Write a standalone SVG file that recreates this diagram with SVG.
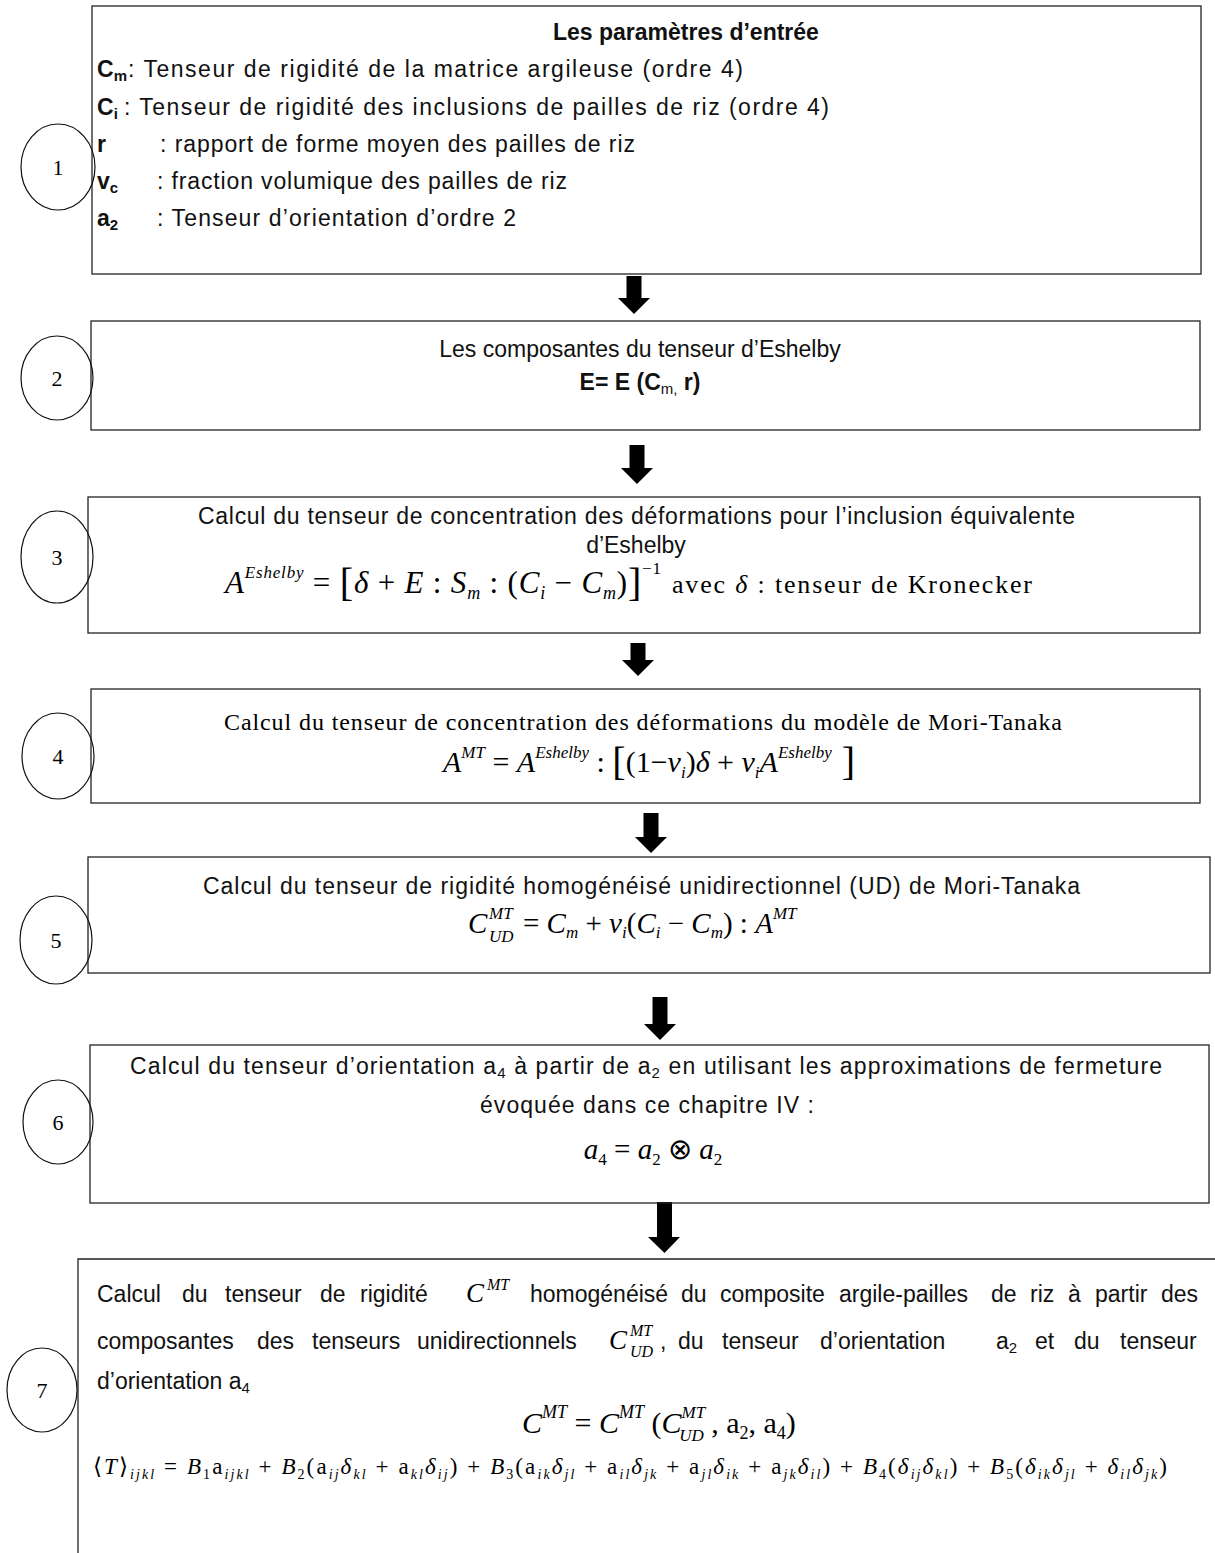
<svg xmlns="http://www.w3.org/2000/svg" width="1215" height="1553" viewBox="0 0 1215 1553">
<style>
.box{fill:none;stroke:#222;stroke-width:1.3}
.num{fill:none;stroke:#111;stroke-width:1.2}
.nt{font-family:'Liberation Serif','Times New Roman',serif;font-size:22px;text-anchor:middle;fill:#000}
.s{font-family:'Liberation Sans',Arial,sans-serif;font-size:23px;fill:#111}
.b{font-weight:bold}
.sf{font-family:'Liberation Serif','Times New Roman',serif;fill:#000}
.mi{font-family:'Liberation Serif','Times New Roman',serif;font-style:italic;fill:#000}
.arrow{fill:#000}
</style>
<rect width="1215" height="1553" fill="#fff"/>

<g id="connectors">
<polygon class="arrow" points="626.5,276 641.5,276 641.5,298 650,298 634,314 618,298 626.5,298"/>
<polygon class="arrow" points="629.5,445 644.5,445 644.5,468 653,468 637,484 621,468 629.5,468"/>
<polygon class="arrow" points="630.5,643 645.5,643 645.5,660 654,660 638,676 622,660 630.5,660"/>
<polygon class="arrow" points="643.5,813 658.5,813 658.5,837 667,837 651,853 635,837 643.5,837"/>
<polygon class="arrow" points="652.5,997 667.5,997 667.5,1024 676,1024 660,1040 644,1024 652.5,1024"/>
<polygon class="arrow" points="657,1202 672,1202 672,1237 680,1237 664.5,1253 648,1237 657,1237"/>
</g>

<g id="node-1">
<rect class="box" x="92" y="6" width="1109" height="268"/>
<ellipse class="num" cx="58" cy="167" rx="37" ry="43"/>
<text class="nt" x="58" y="175">1</text>
<text class="s b" x="553" y="40">Les paramètres d’entrée</text>
<text class="s b" x="97" y="77">C<tspan font-size="15" dy="4">m</tspan></text>
<text class="s" x="128" y="77" textLength="615">: Tenseur de rigidité de la matrice argileuse (ordre 4)</text>
<text class="s b" x="97" y="115">C<tspan font-size="15" dy="4">i</tspan></text>
<text class="s" x="124" y="115" textLength="705">:  Tenseur de rigidité des inclusions de pailles de riz (ordre 4)</text>
<text class="s b" x="97" y="152">r</text>
<text class="s" x="160" y="152" textLength="475">: rapport de forme moyen des pailles de riz</text>
<text class="s b" x="97" y="189">v<tspan font-size="15" dy="4">c</tspan></text>
<text class="s" x="157" y="189" textLength="410">: fraction volumique des pailles de riz</text>
<text class="s b" x="97" y="226">a<tspan font-size="15" dy="4">2</tspan></text>
<text class="s" x="157" y="226" textLength="359">: Tenseur d’orientation d’ordre 2</text>
</g>

<g id="node-2">
<rect class="box" x="91" y="321" width="1109" height="109"/>
<ellipse class="num" cx="57" cy="378" rx="36" ry="42"/>
<text class="nt" x="57" y="386">2</text>
<text class="s" x="640" y="357" text-anchor="middle">Les composantes du tenseur d’Eshelby</text>
<text class="s b" x="640" y="390" text-anchor="middle" font-size="22">E= E (C<tspan font-size="15" font-weight="normal" dy="4">m,</tspan><tspan dy="-4"> r)</tspan></text>
</g>

<g id="node-3">
<rect class="box" x="88" y="497" width="1112" height="136"/>
<ellipse class="num" cx="57" cy="557" rx="36" ry="46"/>
<text class="nt" x="57" y="565">3</text>
<text class="s" x="198" y="524" textLength="877">Calcul du tenseur de concentration des déformations pour l’inclusion équivalente</text>
<text class="s" x="636" y="553" text-anchor="middle">d’Eshelby</text>
<text class="sf" x="225" y="593" font-size="31" textLength="436"><tspan class="mi">A</tspan><tspan class="mi" font-size="17" dy="-15">Eshelby</tspan><tspan dy="15"> = </tspan><tspan font-size="40" dy="3">[</tspan><tspan class="mi" dy="-3">δ</tspan> + <tspan class="mi">E</tspan> : <tspan class="mi">S</tspan><tspan class="mi" font-size="18" dy="6">m</tspan><tspan dy="-6"> : (</tspan><tspan class="mi">C</tspan><tspan class="mi" font-size="18" dy="6">i</tspan><tspan dy="-6"> − </tspan><tspan class="mi">C</tspan><tspan class="mi" font-size="18" dy="6">m</tspan><tspan dy="-6">)</tspan><tspan font-size="40" dy="3">]</tspan><tspan font-size="17" dy="-22">−1</tspan></text>
<text class="sf" x="672" y="593" font-size="26" textLength="360">avec <tspan class="mi">δ</tspan> : tenseur de  Kronecker</text>
</g>

<g id="node-4">
<rect class="box" x="91" y="689" width="1109" height="114"/>
<ellipse class="num" cx="58" cy="756" rx="36" ry="43"/>
<text class="nt" x="58" y="764">4</text>
<text class="sf" x="224" y="730" font-size="24" textLength="838">Calcul du tenseur de concentration des déformations du modèle de Mori-Tanaka</text>
<text class="sf" x="649" y="772" font-size="30" text-anchor="middle"><tspan class="mi">A</tspan><tspan class="mi" font-size="17" dy="-14">MT</tspan><tspan dy="14"> = </tspan><tspan class="mi">A</tspan><tspan class="mi" font-size="17" dy="-14">Eshelby</tspan><tspan dy="14"> : </tspan><tspan font-size="40" dy="3">[</tspan><tspan dy="-3">(1−</tspan><tspan class="mi">v</tspan><tspan class="mi" font-size="17" dy="6">i</tspan><tspan dy="-6">)</tspan><tspan class="mi">δ</tspan> + <tspan class="mi">v</tspan><tspan class="mi" font-size="17" dy="6">i</tspan><tspan class="mi" dy="-6">A</tspan><tspan class="mi" font-size="17" dy="-14">Eshelby</tspan><tspan font-size="40" dy="17"> ]</tspan></text>
</g>

<g id="node-5">
<rect class="box" x="88" y="857" width="1122" height="116"/>
<ellipse class="num" cx="56" cy="940" rx="36" ry="44"/>
<text class="nt" x="56" y="948">5</text>
<text class="s" x="203" y="894" textLength="877">Calcul du tenseur de rigidité homogénéisé unidirectionnel (UD) de Mori-Tanaka</text>
<text class="mi" x="468" y="933" font-size="29">C</text>
<text class="mi" x="489" y="919" font-size="17">MT</text>
<text class="mi" x="489" y="942" font-size="17">UD</text>
<text class="sf" x="523" y="933" font-size="29">= <tspan class="mi">C</tspan><tspan class="mi" font-size="17" dy="5">m</tspan><tspan dy="-5"> + </tspan><tspan class="mi">v</tspan><tspan class="mi" font-size="17" dy="5">i</tspan><tspan dy="-5">(</tspan><tspan class="mi">C</tspan><tspan class="mi" font-size="17" dy="5">i</tspan><tspan dy="-5"> − </tspan><tspan class="mi">C</tspan><tspan class="mi" font-size="17" dy="5">m</tspan><tspan dy="-5">) : </tspan><tspan class="mi">A</tspan><tspan class="mi" font-size="17" dy="-14">MT</tspan></text>
</g>

<g id="node-6">
<rect class="box" x="90" y="1045" width="1119" height="158"/>
<ellipse class="num" cx="58" cy="1122" rx="35" ry="42"/>
<text class="nt" x="58" y="1130">6</text>
<text class="s" x="130" y="1074" textLength="1032">Calcul du tenseur d’orientation a<tspan font-size="15" dy="4">4</tspan><tspan dy="-4"> à partir de a</tspan><tspan font-size="15" dy="4">2</tspan><tspan dy="-4"> en utilisant les approximations de fermeture</tspan></text>
<text class="s" x="480" y="1113" textLength="334">évoquée dans ce chapitre IV :</text>
<text class="sf" x="653" y="1159" font-size="29" text-anchor="middle"><tspan class="mi">a</tspan><tspan font-size="17" dy="6">4</tspan><tspan dy="-6"> = </tspan><tspan class="mi">a</tspan><tspan font-size="17" dy="6">2</tspan><tspan dy="-6"> ⊗ </tspan><tspan class="mi">a</tspan><tspan font-size="17" dy="6">2</tspan></text>
</g>

<g id="node-7">
<path class="box" d="M78,1553 V1259 H1215"/>
<ellipse class="num" cx="42" cy="1390" rx="35" ry="42"/>
<text class="nt" x="42" y="1398">7</text>
<text class="s" y="1302"><tspan x="97">Calcul</tspan><tspan x="182">du</tspan><tspan x="225">tenseur</tspan><tspan x="320">de</tspan><tspan x="360">rigidité</tspan></text>
<text class="mi" x="466" y="1302" font-size="27">C</text>
<text class="mi" x="487" y="1290" font-size="16">MT</text>
<text class="s" y="1302"><tspan x="530">homogénéisé</tspan><tspan x="681">du</tspan><tspan x="720">composite</tspan><tspan x="839">argile-pailles</tspan><tspan x="991">de</tspan><tspan x="1030">riz</tspan><tspan x="1068">à</tspan><tspan x="1095">partir</tspan><tspan x="1161">des</tspan></text>
<text class="s" y="1349"><tspan x="97">composantes</tspan><tspan x="257">des</tspan><tspan x="312">tenseurs</tspan><tspan x="417">unidirectionnels</tspan></text>
<text class="mi" x="609" y="1349" font-size="27">C</text>
<text class="mi" x="630" y="1336" font-size="16">MT</text>
<text class="mi" x="630" y="1357" font-size="16">UD</text>
<text class="s" y="1349"><tspan x="660">,</tspan><tspan x="678">du</tspan><tspan x="722">tenseur</tspan><tspan x="820">d’orientation</tspan><tspan x="996">a</tspan><tspan font-size="15" dy="4">2</tspan><tspan x="1035" dy="-4">et</tspan><tspan x="1074">du</tspan><tspan x="1120">tenseur</tspan></text>
<text class="s" x="97" y="1389">d’orientation a<tspan font-size="15" dy="4">4</tspan></text>
<text class="sf" x="522" y="1433" font-size="30"><tspan class="mi">C</tspan><tspan class="mi" font-size="18" dy="-15">MT</tspan><tspan dy="15"> = </tspan><tspan class="mi">C</tspan><tspan class="mi" font-size="18" dy="-15">MT</tspan><tspan dy="15"> (</tspan><tspan class="mi">C</tspan><tspan class="mi" font-size="17" dy="-15">MT</tspan><tspan class="mi" font-size="17" dx="-26" dy="23">UD</tspan><tspan dy="-8"> , a</tspan><tspan font-size="18" dy="6">2</tspan><tspan dy="-6">, a</tspan><tspan font-size="18" dy="6">4</tspan><tspan dy="-6">)</tspan></text>
<text class="sf" x="93" y="1474" font-size="23" textLength="1074">⟨<tspan class="mi">T</tspan>⟩<tspan class="mi" font-size="14" dy="5">ijkl</tspan><tspan dy="-5"> = </tspan><tspan class="mi">B</tspan><tspan font-size="14" dy="5">1</tspan><tspan dy="-5">a</tspan><tspan class="mi" font-size="14" dy="5">ijkl</tspan><tspan dy="-5"> + </tspan><tspan class="mi">B</tspan><tspan font-size="14" dy="5">2</tspan><tspan dy="-5">(a</tspan><tspan class="mi" font-size="14" dy="5">ij</tspan><tspan class="mi" dy="-5">δ</tspan><tspan class="mi" font-size="14" dy="5">kl</tspan><tspan dy="-5"> + a</tspan><tspan class="mi" font-size="14" dy="5">kl</tspan><tspan class="mi" dy="-5">δ</tspan><tspan class="mi" font-size="14" dy="5">ij</tspan><tspan dy="-5">) + </tspan><tspan class="mi">B</tspan><tspan font-size="14" dy="5">3</tspan><tspan dy="-5">(a</tspan><tspan class="mi" font-size="14" dy="5">ik</tspan><tspan class="mi" dy="-5">δ</tspan><tspan class="mi" font-size="14" dy="5">jl</tspan><tspan dy="-5"> + a</tspan><tspan class="mi" font-size="14" dy="5">il</tspan><tspan class="mi" dy="-5">δ</tspan><tspan class="mi" font-size="14" dy="5">jk</tspan><tspan dy="-5"> + a</tspan><tspan class="mi" font-size="14" dy="5">jl</tspan><tspan class="mi" dy="-5">δ</tspan><tspan class="mi" font-size="14" dy="5">ik</tspan><tspan dy="-5"> + a</tspan><tspan class="mi" font-size="14" dy="5">jk</tspan><tspan class="mi" dy="-5">δ</tspan><tspan class="mi" font-size="14" dy="5">il</tspan><tspan dy="-5">) + </tspan><tspan class="mi">B</tspan><tspan font-size="14" dy="5">4</tspan><tspan dy="-5">(</tspan><tspan class="mi">δ</tspan><tspan class="mi" font-size="14" dy="5">ij</tspan><tspan class="mi" dy="-5">δ</tspan><tspan class="mi" font-size="14" dy="5">kl</tspan><tspan dy="-5">) + </tspan><tspan class="mi">B</tspan><tspan font-size="14" dy="5">5</tspan><tspan dy="-5">(</tspan><tspan class="mi">δ</tspan><tspan class="mi" font-size="14" dy="5">ik</tspan><tspan class="mi" dy="-5">δ</tspan><tspan class="mi" font-size="14" dy="5">jl</tspan><tspan dy="-5"> + </tspan><tspan class="mi">δ</tspan><tspan class="mi" font-size="14" dy="5">il</tspan><tspan class="mi" dy="-5">δ</tspan><tspan class="mi" font-size="14" dy="5">jk</tspan><tspan dy="-5">)</tspan></text>
</g>
</svg>
